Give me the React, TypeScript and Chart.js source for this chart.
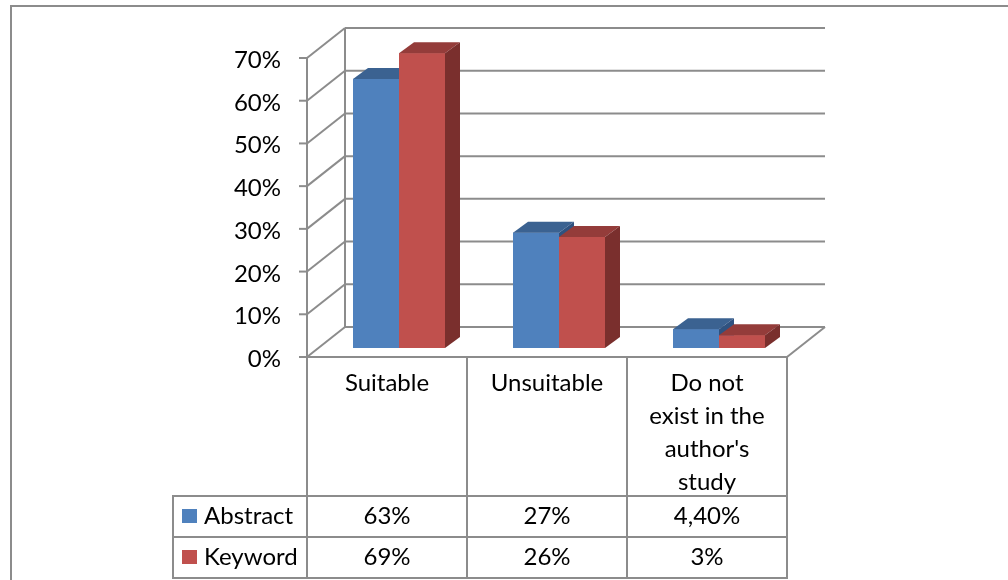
import { useEffect, useRef } from 'react';
import { Chart, registerables } from 'chart.js';

Chart.register(...registerables);

// Categories (each entry holds the wrapped lines of its header cell)
const categories: string[][] = [
  ['Suitable'],
  ['Unsuitable'],
  ['Do not', 'exist in the', "author's", 'study'],
];
const seriesNames = ['Abstract', 'Keyword'];
const abstractValues = [63, 27, 4.4];
const keywordValues = [69, 26, 3];
const abstractLabels = ['63%', '27%', '4,40%'];
const keywordLabels = ['69%', '26%', '3%'];

const seriesColors = [
  { front: '#4F81BD', top: '#3B6291', side: '#2F5280' },
  { front: '#C0504D', top: '#943C3A', side: '#7A2F2D' },
];

// Oblique projection offsets relative to the plane the bars stand in
const FRONT = { dx: -12, dy: 9 };
const BACK = { dx: 26, dy: -21 };
const BAR_DEPTH = { dx: 15, dy: -11 };

const FONT = '24px Lato, "Open Sans", sans-serif';
const LINE = '#8c8c8c';

function seg(ctx: CanvasRenderingContext2D, x1: number, y1: number, x2: number, y2: number) {
  ctx.beginPath();
  ctx.moveTo(x1, y1);
  ctx.lineTo(x2, y2);
  ctx.stroke();
}

function poly(ctx: CanvasRenderingContext2D, pts: number[][]) {
  ctx.beginPath();
  ctx.moveTo(pts[0][0], pts[0][1]);
  for (let i = 1; i < pts.length; i++) ctx.lineTo(pts[i][0], pts[i][1]);
  ctx.closePath();
  ctx.fill();
}

const scenePlugin = {
  id: 'scene3d',
  beforeDatasetsDraw(chart: any) {
    const { ctx, chartArea: ca } = chart;
    const x = chart.scales.x;
    const y = chart.scales.y;
    ctx.save();
    ctx.strokeStyle = LINE;
    ctx.lineWidth = 2;

    // outer frame
    seg(ctx, 11, 580, 11, 6);
    seg(ctx, 10, 6, 1008, 6);

    const ticks: number[] = y.ticks.map((t: any) => t.value);
    const fl = ca.left + FRONT.dx;
    const fr = ca.right + FRONT.dx;
    const bl = ca.left + BACK.dx;
    const br = ca.right + BACK.dx;
    const topPx = y.getPixelForValue(y.max);
    const zeroPx = y.getPixelForValue(0);

    // side wall, back wall grid lines and tick marks
    ticks.forEach((v) => {
      const py = y.getPixelForValue(v);
      seg(ctx, fl, py + FRONT.dy, bl, py + BACK.dy);
      seg(ctx, bl, py + BACK.dy, br, py + BACK.dy);
      seg(ctx, fl - 8, py + FRONT.dy, fl, py + FRONT.dy);
    });
    seg(ctx, bl, topPx + BACK.dy, bl, zeroPx + BACK.dy);
    seg(ctx, fl, topPx + FRONT.dy - 1, fl, zeroPx + FRONT.dy);

    // floor edges
    const floorY = zeroPx + FRONT.dy;
    seg(ctx, fl - 1, floorY, fr, floorY);
    seg(ctx, fr, floorY, br, zeroPx + BACK.dy);

    // value axis labels
    ctx.fillStyle = '#000';
    ctx.font = FONT;
    ctx.textAlign = 'right';
    ctx.textBaseline = 'alphabetic';
    ticks.forEach((v) => {
      ctx.fillText(`${v}%`, fl - 26, y.getPixelForValue(v) + FRONT.dy + 10);
    });

    // data table
    const n = categories.length;
    const catW = (ca.right - ca.left) / n;
    const rowTop = floorY + 139;
    const rowH = 41;
    const legendLeft = 173;
    const tableBottom = rowTop + rowH * seriesNames.length;
    for (let k = 0; k <= n; k++) {
      const xk = fl + k * catW;
      seg(ctx, xk, floorY, xk, tableBottom + 1);
    }
    seg(ctx, legendLeft, rowTop, legendLeft, tableBottom + 1);
    for (let r = 0; r <= seriesNames.length; r++) {
      const yr = rowTop + r * rowH;
      seg(ctx, legendLeft - 1, yr, fr + 1, yr);
    }

    ctx.textAlign = 'center';
    categories.forEach((lines, i) => {
      const cx = x.getPixelForValue(i) + FRONT.dx;
      lines.forEach((txt, j) => ctx.fillText(txt, cx, floorY + 34 + j * 33));
    });

    const rowLabels = [abstractLabels, keywordLabels];
    seriesNames.forEach((name, s) => {
      const top = rowTop + s * rowH;
      ctx.fillStyle = seriesColors[s].front;
      ctx.fillRect(legendLeft + 9, top + 13, 15, 14);
      ctx.fillStyle = '#000';
      ctx.textAlign = 'left';
      ctx.fillText(name, legendLeft + 31, top + 28);
      ctx.textAlign = 'center';
      rowLabels[s].forEach((lbl, i) => {
        ctx.fillText(lbl, x.getPixelForValue(i) + FRONT.dx, top + 28);
      });
    });

    ctx.restore();
  },
  afterDatasetsDraw(chart: any) {
    const { ctx } = chart;
    const metas = seriesNames.map((_, s) => chart.getDatasetMeta(s));
    ctx.save();
    for (let i = 0; i < categories.length; i++) {
      // left bar first so the right bar's faces sit over its side
      metas.forEach((meta: any, s: number) => {
        const bar = meta.data[i];
        if (!bar) return;
        const { x: cx, y: ty, base, width } = bar.getProps(['x', 'y', 'base', 'width'], true);
        const l = cx - width / 2;
        const r = cx + width / 2;
        const c = seriesColors[s];
        ctx.fillStyle = c.front;
        ctx.fillRect(l, ty, width, base - ty);
        ctx.fillStyle = c.top;
        poly(ctx, [
          [l, ty],
          [l + BAR_DEPTH.dx, ty + BAR_DEPTH.dy],
          [r + BAR_DEPTH.dx, ty + BAR_DEPTH.dy],
          [r, ty],
        ]);
        ctx.fillStyle = c.side;
        poly(ctx, [
          [r, ty],
          [r + BAR_DEPTH.dx, ty + BAR_DEPTH.dy],
          [r + BAR_DEPTH.dx, base + BAR_DEPTH.dy],
          [r, base],
        ]);
      });
    }
    ctx.restore();
  },
};

export default function App() {
  const canvasRef = useRef<HTMLCanvasElement | null>(null);

  useEffect(() => {
    const canvas = canvasRef.current;
    if (!canvas) return;
    const chart = new Chart(canvas, {
      type: 'bar',
      data: {
        labels: categories.map((c) => c.join(' ')),
        datasets: [
          {
            label: seriesNames[0],
            data: abstractValues,
            backgroundColor: seriesColors[0].front,
            borderWidth: 0,
            categoryPercentage: 0.575,
            barPercentage: 1,
          },
          {
            label: seriesNames[1],
            data: keywordValues,
            backgroundColor: seriesColors[1].front,
            borderWidth: 0,
            categoryPercentage: 0.575,
            barPercentage: 1,
          },
        ],
      },
      options: {
        animation: false,
        responsive: false,
        maintainAspectRatio: false,
        layout: { padding: { left: 319, right: 209, top: 49, bottom: 232 } },
        scales: {
          x: { display: false, grid: { display: false } },
          y: { display: false, min: 0, max: 70, ticks: { stepSize: 10 }, grid: { display: false } },
        },
        plugins: { legend: { display: false }, tooltip: { enabled: false } },
      },
      plugins: [scenePlugin],
    });
    let alive = true;
    (document as any).fonts?.ready?.then(() => {
      if (alive) chart.draw();
    });
    return () => {
      alive = false;
      chart.destroy();
    };
  }, []);

  return (
    <div style={{ position: 'fixed', left: 0, top: 0, width: 1008, height: 580, background: '#fff' }}>
      <canvas ref={canvasRef} width={1008} height={580} style={{ width: 1008, height: 580, display: 'block' }} />
    </div>
  );
}
